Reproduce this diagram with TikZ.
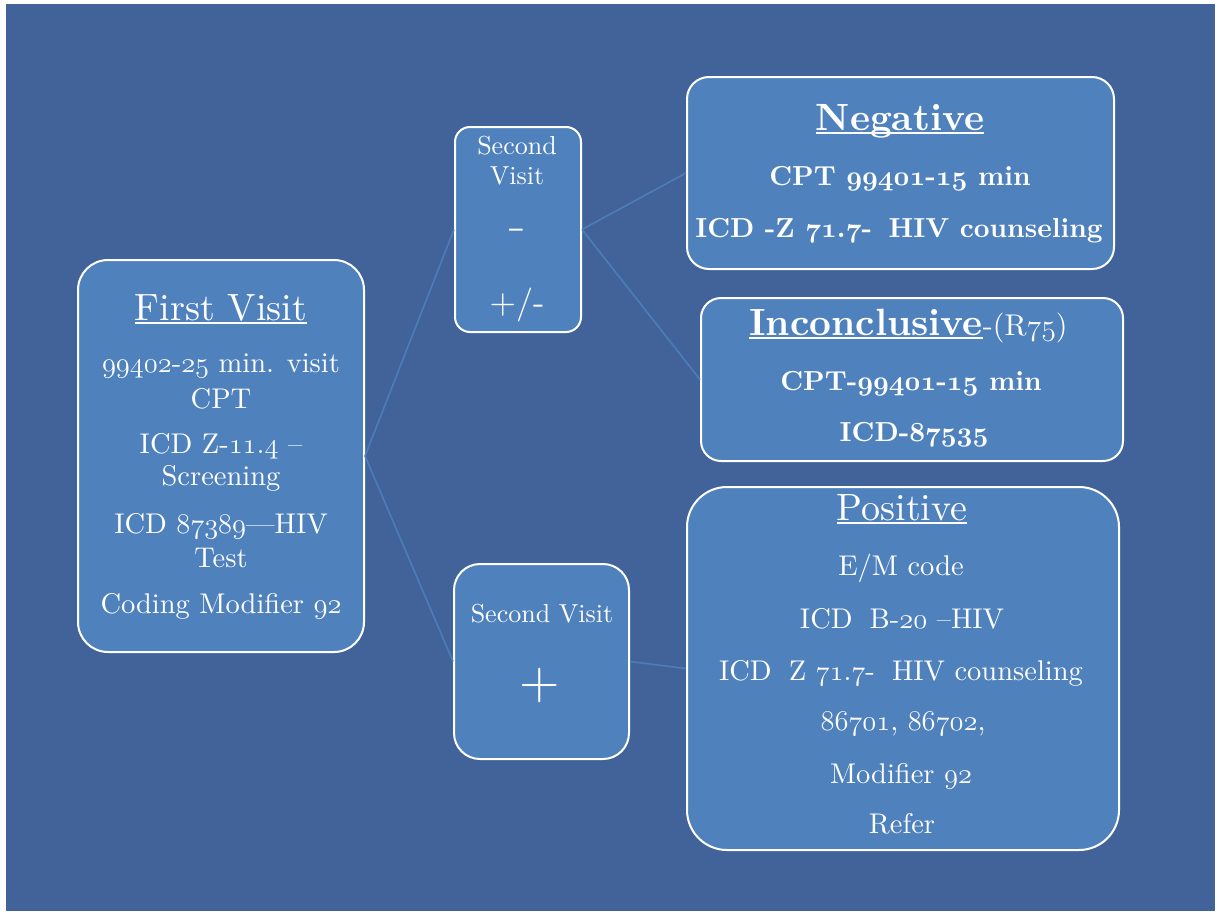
\RequirePackage{fix-cm}
\documentclass[tikz,border=0pt]{standalone}
\usepackage{fontspec}
\setmainfont{lmroman10-regular.otf}[BoldFont=lmroman10-bold.otf, ItalicFont=lmroman10-italic.otf]
\definecolor{bgblue}{HTML}{42639A}
\definecolor{boxblue}{HTML}{4F81BD}
\definecolor{lineblue}{HTML}{4C7DB9}
\newcommand\os[1]{{\usefont{OML}{cmm}{m}{it}#1}}
\newcommand\osb[1]{{\usefont{OML}{cmm}{b}{it}#1}}
\newcommand\fs[1]{\fontsize{#1}{#1}\selectfont}
\newcommand\myul[1]{\setbox0\hbox{#1}\rlap{\rule[-0.1em]{\wd0}{0.05em}}\box0}
\tikzset{
  box/.style={draw=white, line width=2pt, fill=boxblue, inner sep=0pt},
  conn/.style={draw=lineblue, line width=1.6pt},
  tx/.style={text=white, anchor=base, inner sep=0pt, font=\fs{28.5}},
  txb/.style={text=white, anchor=base, inner sep=0pt, font=\fs{27.5}\bfseries},
  txs/.style={text=white, anchor=base, inner sep=0pt, font=\fs{26}},
}
\begin{document}
\begin{tikzpicture}[x=1pt,y=-1pt]
\useasboundingbox (0,0) rectangle (1218,913);
\fill[white] (0,0) rectangle (1218,913);
\fill[bgblue] (6,4) rectangle (1215,911);

% boxes
\node[box, rounded corners=30pt, minimum width=286pt, minimum height=392pt] (fv) at (221,456) {};
\node[box, rounded corners=15pt, minimum width=126pt, minimum height=205pt] (sv1) at (518,229.5) {};
\node[box, rounded corners=26pt, minimum width=175pt, minimum height=195pt] (sv2) at (541.5,661.5) {};
\node[box, rounded corners=22pt, minimum width=427pt, minimum height=192pt] (neg) at (900.5,173) {};
\node[box, rounded corners=20pt, minimum width=422pt, minimum height=163pt] (inc) at (912,379.5) {};
\node[box, rounded corners=40pt, minimum width=432pt, minimum height=363pt] (pos) at (903,668.5) {};

% connectors
\draw[conn] (fv.east) -- (sv1.west);
\draw[conn] (fv.east) -- (sv2.west);
\draw[conn] (sv1.east) -- (neg.west);
\draw[conn] (sv1.east) -- (inc.west);
\draw[conn] (sv2.east) -- (pos.west);

% First Visit
\node[tx] (fv0) at (221,320) {\fs{38}\myul{First Visit}};
\node[tx] (fv1) at (221,372) {\os{99402}-\os{25} min. visit};
\node[tx] (fv2) at (221,408) {CPT};
\node[tx] (fv3) at (221,453) {ICD Z-\os{11}.\os{4} –};
\node[tx] (fv4) at (221,485) {Screening};
\node[tx] (fv5) at (221,533) {ICD \os{87389}—HIV};
\node[tx] (fv6) at (221,567) {Test};
\node[tx] (fv7) at (221,613) {Coding Modifier \os{92}};

% Second Visit (top)
\node[txs] (sa0) at (517,154) {Second};
\node[txs] (sa1) at (517,184) {Visit};
\node[txs] (sa2) at (517,237) {\scalebox{1.5}[1]{\fs{34}-}};
\node[txs] (sa3) at (517,313) {\fs{34}+/-};

% Second Visit (plus)
\node[txs] (sb0) at (542,622) {Second Visit};
\node[txs] (sb1) at (540,698) {\fs{52}+};

% Negative
\node[txb] (ng0) at (900,130) {\fs{38}\bfseries\myul{Negative}};
\node[txb] (ng1) at (900,185) {CPT \osb{99401}-\osb{15} min};
\node[txb] (ng2) at (899,237) {ICD -Z \osb{71}.\osb{7}-\hspace{0.6em}HIV counseling};

% Inconclusive
\node[txb] (ic0) at (908.5,335) {\fs{38}\bfseries\myul{Inconclusive}{\fs{30}\mdseries-(R\os{75})}};
\node[txb] (ic1) at (911,390) {CPT-\osb{99401}-\osb{15} min};
\node[txb] (ic2) at (914,441) {ICD-\osb{87535}};

% Positive
\node[tx] (ps0) at (902,520) {\fs{38}\myul{Positive}};
\node[tx] (ps1) at (901,575) {E/M code};
\node[tx] (ps2) at (902,628) {ICD\hspace{0.6em}B-\os{20} –HIV};
\node[tx] (ps3) at (901,680) {ICD\hspace{0.6em}Z \os{71}.\os{7}-\hspace{0.6em}HIV counseling};
\node[tx] (ps4) at (903,730) {\os{86701}, \os{86702},};
\node[tx] (ps5) at (901,783) {Modifier \os{92}};
\node[tx] (ps6) at (902,833) {Refer};
\end{tikzpicture}
\end{document}
